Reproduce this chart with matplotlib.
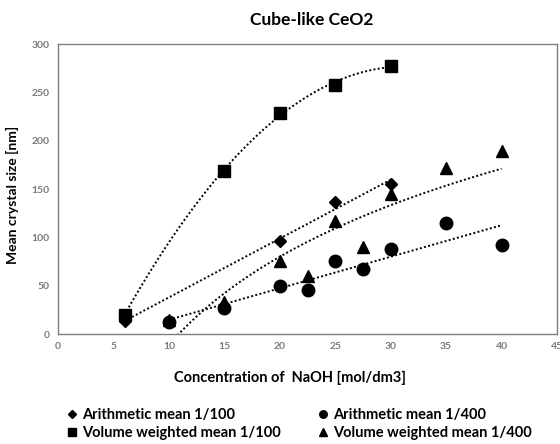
import numpy as np
import matplotlib
matplotlib.use("Agg")
import matplotlib.pyplot as plt

plt.rcParams['font.family'] = ['Lato', 'DejaVu Sans']

# crystal size vs NaOH concentration
x_am100 = [6, 20, 25, 30]
y_am100 = [13, 96, 137, 155]

x_vw100 = [6, 15, 20, 25, 30]
y_vw100 = [20, 169, 229, 258, 277]

x_am400 = [10, 15, 20, 22.5, 25, 27.5, 30, 35, 40]
y_am400 = [12, 27, 50, 45.5, 76, 67, 88, 115, 92]

x_vw400 = [10, 15, 20, 22.5, 25, 27.5, 30, 35, 40]
y_vw400 = [14, 33, 75.5, 60, 117, 90, 144.5, 172, 189]

x_ticks = [0, 5, 10, 15, 20, 25, 30, 35, 40, 45]
y_ticks = [0, 50, 100, 150, 200, 250, 300]

fig = plt.figure(figsize=(5.6, 4.44), dpi=100)
ax = fig.add_axes([58 / 560, 1 - 334 / 444, 499 / 560, 290 / 444])

dot = dict(color='black', lw=1.4, ls=(0, (1, 1.2)), zorder=2)


def trend(xs, ys, kind):
    xs = np.asarray(xs, float)
    ys = np.asarray(ys, float)
    xx = np.linspace(xs.min(), xs.max(), 200)
    if kind == 'log':
        b, a = np.polyfit(np.log(xs), ys, 1)
        return xx, a + b * np.log(xx)
    deg = 2 if kind == 'poly2' else 1
    return xx, np.polyval(np.polyfit(xs, ys, deg), xx)


for xs, ys, kind in [(x_vw100, y_vw100, 'poly2'),
                     (x_am100, y_am100, 'linear'),
                     (x_am400, y_am400, 'linear'),
                     (x_vw400, y_vw400, 'log')]:
    tx, ty = trend(xs, ys, kind)
    ax.plot(tx, ty, **dot)

h1, = ax.plot(x_am100, y_am100, 'D', color='black', ms=6.5, ls='none', zorder=3,
              label='Arithmetic mean 1/100')
h2, = ax.plot(x_vw100, y_vw100, 's', color='black', ms=8.5, ls='none', zorder=3,
              label='Volume weighted mean 1/100')
h4, = ax.plot(x_vw400, y_vw400, '^', color='black', ms=9, ls='none', zorder=3,
              label='Volume weighted mean 1/400')
h3, = ax.plot(x_am400, y_am400, 'o', color='black', ms=9, ls='none', zorder=4,
              label='Arithmetic mean 1/400')

ax.set_xlim(0, 45)
ax.set_ylim(0, 300)
ax.set_xticks(x_ticks)
ax.set_yticks(y_ticks)
ax.tick_params(length=0, labelsize=7.5, labelcolor='#7a7a7a', pad=6)
for lab in ax.get_xticklabels() + ax.get_yticklabels():
    lab.set_fontweight('bold')
for sp in ax.spines.values():
    sp.set_color('#7f7f7f')
    sp.set_linewidth(1)

fig.text(312 / 560, 1 - 20 / 444, 'Cube-like CeO2', ha='center', va='center',
         fontsize=12.5, fontweight='bold')
fig.text(290 / 560, 1 - 378 / 444, 'Concentration of  NaOH [mol/dm3]',
         ha='center', va='center', fontsize=10.5, fontweight='bold')
fig.text(12 / 560, 1 - 195 / 444, 'Mean crystal size [nm]', ha='center',
         va='center', rotation=90, fontsize=10, fontweight='bold')

leg = fig.legend(handles=[h1, h2, h3, h4], ncol=2, loc='center',
                 bbox_to_anchor=(300 / 560, 1 - 424 / 444), frameon=False,
                 handlelength=0.6, handletextpad=0.4,
                 columnspacing=2.6, labelspacing=0.3, markerscale=0.6,
                 prop={'weight': 'bold', 'size': 10.5})

fig.savefig('out.png', dpi=100)
